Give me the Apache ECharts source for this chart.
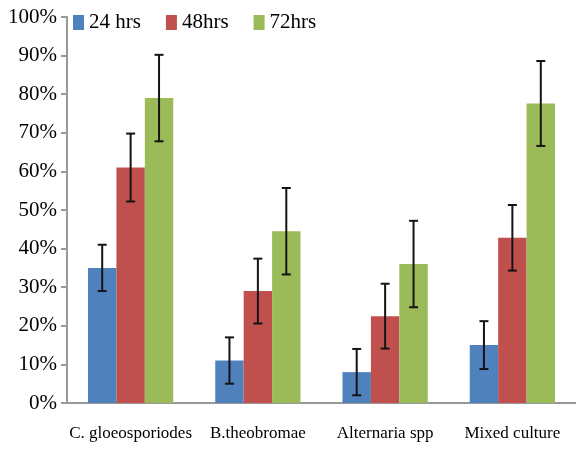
<!DOCTYPE html>
<html>
<head>
<meta charset="utf-8">
<script src="https://cdn.jsdelivr.net/npm/echarts@6/dist/echarts.min.js"></script>
<style>html,body{margin:0;padding:0;background:#fff}#c{width:576px;height:449px}</style>
</head>
<body>
<div id="c"></div>
<script>
const categories = ['C. gloeosporiodes', 'B.theobromae', 'Alternaria spp', 'Mixed culture'];
const seriesNames = ['24 hrs', '48hrs', '72hrs'];
const values24 = [35, 11, 8, 15];
const values48 = [61, 29, 22.5, 42.8];
const values72 = [79, 44.5, 36, 77.6];
const err24 = [6, 6, 6, 6.2];
const err48 = [8.8, 8.4, 8.4, 8.5];
const err72 = [11.2, 11.2, 11.2, 11];
const yTicks = [0, 10, 20, 30, 40, 50, 60, 70, 80, 90, 100];
const colors = ['#4F81BD', '#C0504D', '#9BBB59'];

const allValues = [values24, values48, values72];
const allErrs = [err24, err48, err72];
const GAP = 0.33;
const FONT = '"Liberation Serif", "Times New Roman", serif';

const barSeries = allValues.map((vals, i) => ({
  name: seriesNames[i],
  type: 'bar',
  data: vals,
  barGap: '0%',
  barCategoryGap: (GAP * 100) + '%',
  itemStyle: { color: colors[i] },
  z: 2
}));

const errSeries = allValues.map((vals, i) => ({
  type: 'custom',
  name: 'err' + i,
  data: vals.map((v, k) => [k, v, allErrs[i][k]]),
  encode: { x: 0, y: 1 },
  z: 5,
  silent: true,
  renderItem: function (params, api) {
    const x = api.value(0), v = api.value(1), e = api.value(2);
    const band = api.size([1, 0])[0];
    const bw = band * (1 - GAP) / 3;
    const c = api.coord([x, v]);
    const cx = c[0] + (i - 1) * bw;
    const top = api.coord([x, v + e])[1];
    const bot = api.coord([x, v - e])[1];
    const hw = 4.5;
    const st = { stroke: '#141414', lineWidth: 2 };
    return {
      type: 'group',
      children: [
        { type: 'line', shape: { x1: cx, y1: top, x2: cx, y2: bot }, style: st },
        { type: 'line', shape: { x1: cx - hw, y1: top, x2: cx + hw, y2: top }, style: st },
        { type: 'line', shape: { x1: cx - hw, y1: bot, x2: cx + hw, y2: bot }, style: st }
      ]
    };
  }
}));

const chart = echarts.init(document.getElementById('c'));
chart.setOption({
  animation: false,
  textStyle: { fontFamily: FONT },
  legend: {
    data: seriesNames,
    left: 68,
    top: 7,
    icon: 'rect',
    itemWidth: 11,
    itemHeight: 15,
    itemGap: 25,
    textStyle: { fontFamily: FONT, fontSize: 21, color: '#000' }
  },
  grid: { left: 67, top: 17, width: 512, bottom: 46, containLabel: false },
  xAxis: {
    type: 'category',
    data: categories,
    axisLine: { lineStyle: { color: '#999', width: 2 } },
    axisTick: { length: 8, lineStyle: { color: '#999', width: 2 } },
    axisLabel: { interval: 0, fontFamily: FONT, fontSize: 17, color: '#000', margin: 22 }
  },
  yAxis: {
    type: 'value',
    min: yTicks[0],
    max: yTicks[yTicks.length - 1],
    interval: yTicks[1] - yTicks[0],
    splitLine: { show: false },
    axisLine: { show: true, lineStyle: { color: '#999', width: 2 } },
    axisTick: { show: true, length: 6, lineStyle: { color: '#999', width: 2 } },
    axisLabel: { fontFamily: FONT, fontSize: 21, color: '#000', margin: 10, formatter: '{value}%' }
  },
  series: barSeries.concat(errSeries)
});
</script>
</body>
</html>
